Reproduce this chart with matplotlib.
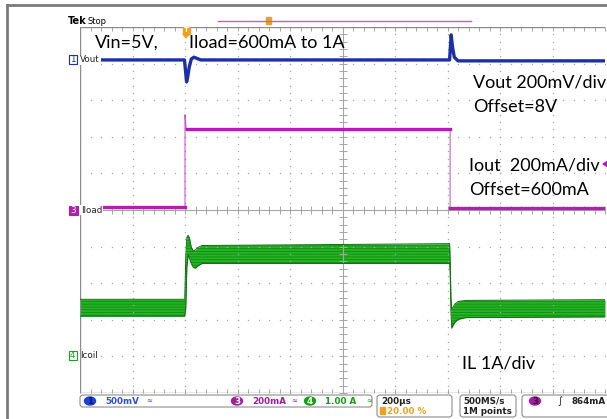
import numpy as np
import matplotlib.pyplot as plt
from matplotlib.patches import FancyBboxPatch, Rectangle, Polygon, Ellipse

W, H = 607, 419

# scope settings
t_div = 200           # us / div
vout_scale = 200      # mV / div
iload_scale = 0.2     # A / div
iload_offset = 0.6    # A
icoil_scale = 1.0     # A / div
vout_ref = 4.10       # channel reference levels, divisions from centre
iload_ref = 0.0
icoil_ref = -3.97

# Vout deviation from the 8 V offset (mV)
vout_t = [-400, -2, 2, 6, 10, 16, 24, 34, 60, 1008, 1011, 1014, 1019, 1026, 1040, 1600]
vout_mv = [0, 0, -60, -120, -95, -40, 5, 15, 0, 0, 70, 137, 70, 15, -5, -5]

# load current (A)
iload_t = [-400, 0, 0, 4, 10, 1010, 1010, 1014, 1600]
iload_a = [0.615, 0.615, 1.12, 1.045, 1.043, 1.043, 0.6, 0.612, 0.612]
iload_flat = [(-400, 0, 0.615), (6, 1010, 1.043), (1010, 1600, 0.612)]

# inductor current ripple envelope (A)
icoil_t = [-400, -1, 3, 7, 12, 17, 24, 32, 40, 50, 65, 1008, 1010, 1013, 1016, 1020, 1028, 1040, 1070, 1600]
icoil_hi = [1.53, 1.53, 2.7, 3.22, 3.28, 3.2, 2.95, 2.85, 2.88, 2.95, 3.0, 3.05, 2.6, 1.6, 1.25, 1.3, 1.4, 1.47, 1.5, 1.52]
icoil_lo = [1.07, 1.07, 1.3, 2.4, 2.75, 2.65, 2.5, 2.4, 2.38, 2.45, 2.51, 2.51, 2.3, 1.2, 0.74, 0.8, 0.9, 0.98, 1.03, 1.05]

c_blue = '#1c2fa6'
c_mag = '#b41cb4'
c_green = '#22b422'
c_dkgreen = '#0d6e0d'
c_grid = '#a6a6a6'

plt.rcParams['hatch.linewidth'] = 0.6
plt.rcParams['hatch.color'] = '#158a15'

fig = plt.figure(figsize=(W / 100, H / 100), dpi=100)
ax = fig.add_axes([80 / W, 1 - 393 / H, 525 / W, 366 / H])
ax.set_xlim(-400, 1600)
ax.set_ylim(-5, 5)
ax.axis('off')

# graticule: dotted division lines, solid centre cross, ticked border
for k in range(1, 10):
    if k == 5:
        continue
    x = -400 + k * t_div
    yy = np.arange(-5, 5.01, 0.2)
    ax.plot(np.full_like(yy, x), yy, ls='none', marker='s', ms=0.9, mew=0, color=c_grid)
for j in range(-4, 5):
    if j == 0:
        continue
    xx = np.arange(-400, 1601, 40)
    ax.plot(xx, np.full_like(xx, j, dtype=float), ls='none', marker='s', ms=0.9, mew=0, color=c_grid)
ax.axvline(600, color=c_grid, lw=0.8)
ax.axhline(0, color=c_grid, lw=0.8)
yt = np.arange(-5, 5.01, 0.2)
xt = np.arange(-400, 1601, 40)
ax.plot(np.full_like(yt, 600), yt, ls='none', marker='_', ms=6, mew=0.7, color=c_grid)
ax.plot(xt, np.zeros_like(xt, dtype=float), ls='none', marker='|', ms=6, mew=0.7, color=c_grid)
ax.plot(np.full_like(yt, -400), yt, ls='none', marker=0, ms=3, mew=0.7, color=c_grid)
ax.plot(xt, np.full_like(xt, 5, dtype=float), ls='none', marker=3, ms=3, mew=0.7, color=c_grid)
ax.plot(xt, np.full_like(xt, -5, dtype=float), ls='none', marker=2, ms=3, mew=0.7, color=c_grid)
ax.plot([1600, -400, -400, 1600], [5, 5, -5, -5], color='#8c8c8c', lw=1.0)

# traces
vout_y = vout_ref + np.array(vout_mv) / vout_scale
ax.plot(vout_t, vout_y, color=c_blue, lw=2.4, solid_joinstyle='round')

iload_y = iload_ref + (np.array(iload_a) - iload_offset) / iload_scale
ax.plot(iload_t, iload_y, color=c_mag, lw=0.8, alpha=0.7)
for t0, t1, lvl in iload_flat:
    ax.plot([t0, t1], [iload_ref + (lvl - iload_offset) / iload_scale] * 2, color=c_mag, lw=2.4)

hi = icoil_ref + np.array(icoil_hi) / icoil_scale
lo = icoil_ref + np.array(icoil_lo) / icoil_scale
ax.fill_between(icoil_t, lo, hi, color=c_green, lw=0)
ax.fill_between(icoil_t, lo, hi, facecolor='none', edgecolor='#158a15', hatch='------', lw=0)
ax.plot(icoil_t, hi, color=c_dkgreen, lw=0.7)
ax.plot(icoil_t, lo, color=c_dkgreen, lw=0.7)

# overlay in pixel coordinates
ov = fig.add_axes([0, 0, 1, 1])
ov.set_xlim(0, W)
ov.set_ylim(H, 0)
ov.axis('off')

ov.plot([7, W], [5, 5], color='#7a7a7a', lw=2)
ov.plot([7, 7], [5, H], color='#7a7a7a', lw=2)

ov.text(68, 21, 'Tek', fontsize=7, fontweight='bold', va='center', family='DejaVu Sans')
ov.text(88, 21, 'Stop', fontsize=6, va='center', family='DejaVu Sans')
ov.plot([218, 471], [21, 21], color='#c060c0', lw=1)
ov.add_patch(Rectangle((265.5, 17), 5, 7, color='#f0a020'))
ov.add_patch(Rectangle((182.5, 27), 7, 7, color='#f0a020'))
ov.add_patch(Polygon([[183, 34], [189, 34], [186, 38]], color='#f0a020'))
ov.text(186, 30.5, 'T', fontsize=5, color='white', ha='center', va='center', fontweight='bold')

# channel markers
sfont = dict(fontsize=6.3, family='DejaVu Sans')
ov.add_patch(Rectangle((68.5, 55.5), 8, 9, facecolor='white', edgecolor=c_blue, lw=0.8))
ov.text(72.5, 60, '1', color=c_blue, ha='center', va='center', **sfont)
ov.text(80, 60, 'Vout', va='center', color='#222222',
        bbox=dict(facecolor='white', edgecolor='none', pad=0.6), **sfont)
ov.add_patch(Rectangle((68.5, 205.5), 9, 9, facecolor=c_mag, edgecolor=c_mag, lw=0.8))
ov.text(73, 210, '3', color='white', ha='center', va='center', **sfont)
ov.text(81, 210, 'Iload', va='center', color='#222222',
        bbox=dict(facecolor='white', edgecolor='none', pad=0.6), **sfont)
ov.add_patch(Rectangle((68.5, 350.5), 8, 9, facecolor='white', edgecolor='#22a022', lw=0.8))
ov.text(72.5, 355, '4', color='#22a022', ha='center', va='center', **sfont)
ov.text(80, 355, 'Icoil', va='center', color='#222222', **sfont)
ov.add_patch(Polygon([[603, 164], [608, 161], [608, 167]], color=c_mag))

# annotations
afont = dict(fontsize=13, family='Lato', color='black', va='center')
ov.text(95, 43, 'Vin=5V,', **afont)
ov.text(189, 43, 'Iload=600mA to 1A', **afont)
ov.text(473, 82, 'Vout 200mV/div', **afont)
ov.text(473, 107, 'Offset=8V', **afont)
ov.text(469, 165, 'Iout  200mA/div', **afont)
ov.text(469, 190, 'Offset=600mA', **afont)
ov.text(462, 363, 'IL 1A/div', **afont)

# status bar
bfont = dict(fontsize=6.3, family='DejaVu Sans', va='center', fontweight='bold')
def box(x0, y0, x1, y1):
    ov.add_patch(FancyBboxPatch((x0, y0), x1 - x0, y1 - y0, boxstyle='round,pad=0,rounding_size=3',
                                facecolor='white', edgecolor='#8c8c8c', lw=0.8))
box(80, 395, 372, 407)
box(377, 395, 452, 417)
box(460, 395, 516, 417)
box(522, 395, 615, 417)
for cx, lab, col in [(90, '1', '#1a3fd8'), (237, '3', '#a01ea0'), (310, '4', '#13a013')]:
    ov.add_patch(Ellipse((cx, 401), 11, 8, color=col))
    ov.text(cx, 401, lab, color='white' if lab != '1' else '#0a1a6a', ha='center', **bfont)
ov.text(105, 401, '500mV', color='#2d4fd8', **bfont)
ov.text(252, 401, '200mA', color='#a01ea0', **bfont)
ov.text(325, 401, '1.00 A', color='#13a013', **bfont)
for x, col in [(146, '#2d4fd8'), (291, '#a01ea0'), (366, '#13a013')]:
    ov.text(x, 401, '\u2248', color=col, fontsize=5, va='center')
ov.text(381, 401, '200\u00b5s', color='#222222', **bfont)
ov.add_patch(Rectangle((380, 407), 5, 7, color='#f0a020'))
ov.text(387, 411, '20.00 %', color='#f0a020', **bfont)
ov.text(463, 401, '500MS/s', color='#222222', **bfont)
ov.text(463, 411, '1M points', color='#222222', **bfont)
ov.add_patch(Ellipse((535, 401), 11, 8, color='#a01ea0'))
ov.text(535, 401, '3', color='#3a0a3a', ha='center', **bfont)
ov.text(557, 401, '\u222b', color='#222222', fontsize=7, va='center')
ov.text(571, 401, '864mA', color='#222222', **bfont)

fig.savefig('out.png', dpi=100)
